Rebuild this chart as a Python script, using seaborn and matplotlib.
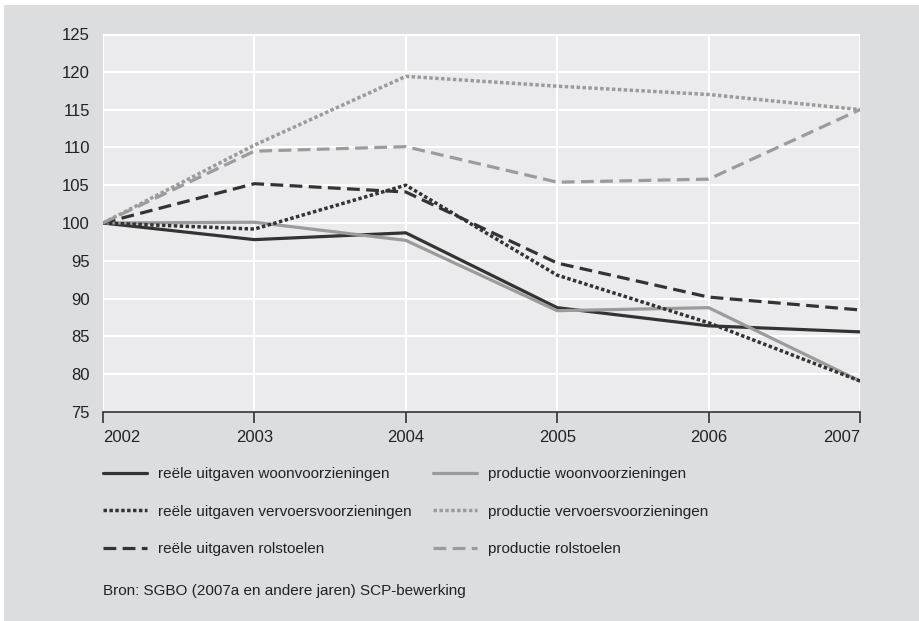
import matplotlib
matplotlib.use("Agg")
import matplotlib.pyplot as plt
import seaborn as sns
import pandas as pd

years = [2002, 2003, 2004, 2005, 2006, 2007]
reeel_woon = [100, 97.8, 98.7, 88.8, 86.4, 85.6]
prod_woon = [100, 100.1, 97.7, 88.4, 88.8, 79.1]
reeel_vervoer = [100, 99.2, 105.0, 93.1, 86.8, 79.1]
prod_vervoer = [100, 110.3, 119.4, 118.1, 117.0, 115.0]
reeel_rol = [100, 105.2, 104.1, 94.7, 90.2, 88.5]
prod_rol = [100, 109.5, 110.1, 105.4, 105.8, 115.0]
labels = ["reële uitgaven woonvoorzieningen", "productie woonvoorzieningen",
          "reële uitgaven vervoersvoorzieningen", "productie vervoersvoorzieningen",
          "reële uitgaven rolstoelen", "productie rolstoelen"]
yticks = [75, 80, 85, 90, 95, 100, 105, 110, 115, 120, 125]
source = "Bron: SGBO (2007a en andere jaren) SCP-bewerking"

sns.set_theme(style="white")
plt.rcParams["font.family"] = ["Liberation Sans", "DejaVu Sans"]

BG = "#dcdddf"
PANEL = "#ebebed"
DARK = "#333333"
GREY = "#9b9b9b"
TXT = "#222222"

fig = plt.figure(figsize=(9.19, 6.21), dpi=100)
fig.patch.set_facecolor("white")
fig.patches.append(plt.Rectangle((4/919, 0), 1, 1 - 5/621, transform=fig.transFigure,
                                 facecolor=BG, edgecolor="none", zorder=-10))
ax = fig.add_axes([103/919, 1 - 412/621, (860-103)/919, (412-34)/621])
ax.set_facecolor(PANEL)

series = [reeel_woon, prod_woon, reeel_vervoer, prod_vervoer, reeel_rol, prod_rol]
colors = [DARK, GREY, DARK, GREY, DARK, GREY]
styles = ["solid", "solid", (0, (1, 0.7)), (0, (1, 0.7)), (0, (4, 2)), (0, (4, 2))]
widths = [2.3, 2.3, 2.5, 2.5, 2.3, 2.3]
lines = []
for vals, c, ls, lw, lab in zip(series, colors, styles, widths, labels):
    df = pd.DataFrame({"jaar": years, "waarde": vals})
    sns.lineplot(data=df, x="jaar", y="waarde", ax=ax, color=c, linewidth=lw,
                 label=lab, legend=False)
    ln = ax.lines[-1]
    ln.set_linestyle(ls)
    ln.set_solid_joinstyle("miter")
    lines.append(ln)

ax.set_xlim(2002, 2007)
ax.set_ylim(75, 125)
ax.set_xticks(years)
ax.set_yticks(yticks)
ax.grid(True, color="white", linewidth=1.5)
ax.set_axisbelow(True)
for s in ["top", "right", "left"]:
    ax.spines[s].set_visible(False)
ax.spines["bottom"].set_color(DARK)
ax.spines["bottom"].set_linewidth(1.2)
ax.spines["bottom"].set_zorder(5)
ax.tick_params(axis="x", direction="out", length=8, width=1.2, color=DARK,
               labelsize=12, labelcolor=TXT, pad=5, bottom=True)
ax.tick_params(axis="y", length=0, labelsize=12, labelcolor=TXT, pad=9.5)
ax.set_xticklabels([str(y) for y in years])
tl = ax.get_xticklabels()
tl[0].set_horizontalalignment("left")
tl[-1].set_horizontalalignment("right")
ax.set_xlabel("")
ax.set_ylabel("")
ax.axhline(125, color="white", lw=2, zorder=0.5)
ax.axvline(2007, color="white", lw=2, zorder=0.5)

legkw = dict(loc="upper left", frameon=False, fontsize=11, handlelength=2.9,
             handletextpad=0.7, labelspacing=1.55, borderpad=0, borderaxespad=0,
             labelcolor=TXT)
leg1 = fig.legend([lines[i] for i in (0, 2, 4)], [labels[i] for i in (0, 2, 4)],
                  bbox_to_anchor=(103/919, 1 - 467/621), **legkw)
leg2 = fig.legend([lines[i] for i in (1, 3, 5)], [labels[i] for i in (1, 3, 5)],
                  bbox_to_anchor=(433/919, 1 - 467/621), **legkw)
fig.text(103/919, 1 - 591/621, source, fontsize=11, color=TXT, va="center")

fig.savefig("out.png", dpi=100, facecolor=fig.get_facecolor())
